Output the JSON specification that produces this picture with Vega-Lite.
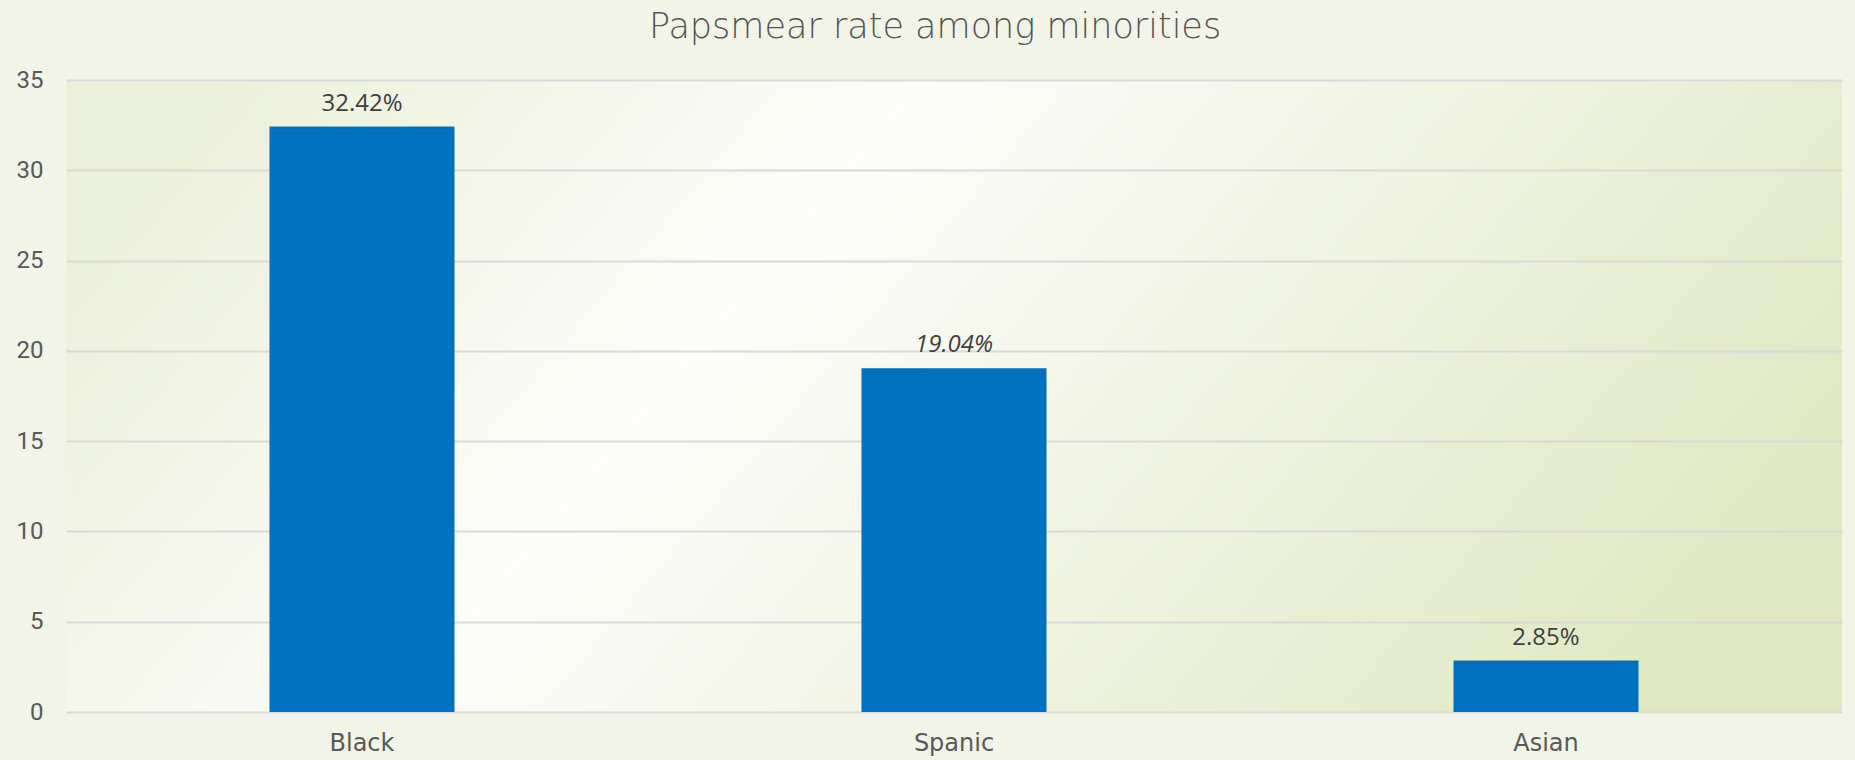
{
  "$schema": "https://vega.github.io/schema/vega-lite/v6.json",
  "width": 1776,
  "height": 632,
  "autosize": "none",
  "padding": {"left": 66, "top": 80, "right": 13, "bottom": 48},
  "background": "#f1f4e6",
  "title": {
    "text": "Papsmear rate among minorities",
    "font": "DejaVu Sans",
    "fontSize": 35,
    "fontWeight": 200,
    "color": "#555555",
    "anchor": "middle",
    "baseline": "alphabetic",
    "dx": -19,
    "dy": 36,
    "offset": 31
  },
  "data": {
    "values": [
      {"group": "Black", "rate": 32.42},
      {"group": "Spanic", "rate": 19.04},
      {"group": "Asian", "rate": 2.85}
    ]
  },
  "transform": [
    {"calculate": "format(datum.rate, '.2f') + '%'", "as": "label"}
  ],
  "encoding": {
    "x": {
      "field": "group",
      "type": "nominal",
      "sort": null,
      "scale": {"paddingInner": 0.6875, "paddingOuter": 0.34375},
      "axis": {
        "title": null,
        "labelAngle": 0,
        "domain": false,
        "ticks": false,
        "labelFont": "DejaVu Sans",
        "labelFontSize": 24,
        "labelColor": "#595959",
        "labelPadding": 19
      }
    },
    "y": {
      "field": "rate",
      "type": "quantitative",
      "scale": {"domain": [0, 35], "nice": false},
      "axis": {
        "title": null,
        "values": [0, 5, 10, 15, 20, 25, 30, 35],
        "domain": false,
        "ticks": false,
        "grid": true,
        "gridColor": "#d9d9d9",
        "gridWidth": 2,
        "labelFont": "Roboto",
        "labelFontSize": 24,
        "labelColor": "#595959",
        "labelPadding": 23
      }
    }
  },
  "layer": [
    {"mark": {"type": "bar", "color": "#0070c0"}},
    {
      "transform": [{"filter": "datum.group !== 'Spanic'"}],
      "mark": {"type": "text", "font": "Open Sans", "fontSize": 24, "color": "#404040", "baseline": "alphabetic", "dy": -16},
      "encoding": {"text": {"field": "label"}}
    },
    {
      "transform": [{"filter": "datum.group === 'Spanic'"}],
      "mark": {"type": "text", "font": "Open Sans", "fontSize": 24, "fontStyle": "italic", "color": "#404040", "baseline": "alphabetic", "dy": -16},
      "encoding": {"text": {"field": "label"}}
    }
  ],
  "view": {
    "stroke": null,
    "fill": {
      "gradient": "linear",
      "x1": 0, "y1": 0.3, "x2": 1, "y2": 0.6,
      "stops": [
        {"offset": 0, "color": "#ebf0da"},
        {"offset": 0.36, "color": "#fdfdfa"},
        {"offset": 1, "color": "#dfe8c3"}
      ]
    }
  }
}
